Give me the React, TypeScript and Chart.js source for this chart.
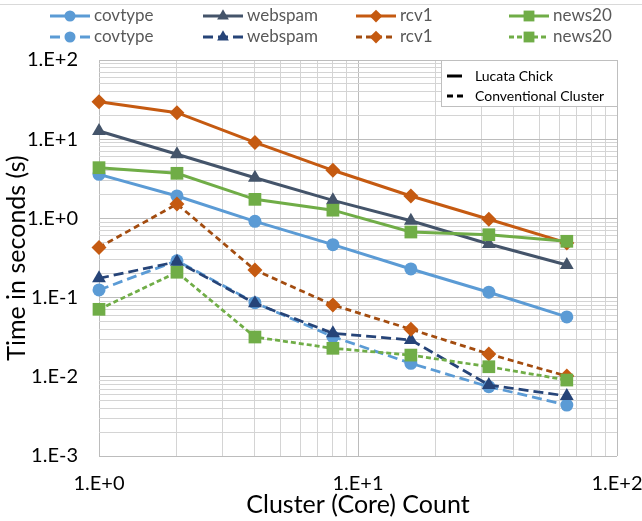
import React, { useEffect, useRef } from "react";
import { Chart, registerables } from "chart.js";

Chart.register(...registerables);

// Number of clusters (cores) on the x axis
const coreCounts = [1, 2, 4, 8, 16, 32, 64];

// Run times in seconds on the Lucata Chick
const covtypeChick = [3.6, 1.92, 0.918, 0.466, 0.23, 0.117, 0.057];
const webspamChick = [12.7, 6.45, 3.26, 1.69, 0.935, 0.475, 0.258];
const rcv1Chick = [29.7, 21.6, 9.1, 4.05, 1.92, 0.975, 0.49];
const news20Chick = [4.37, 3.71, 1.74, 1.27, 0.673, 0.622, 0.514];

// Run times in seconds on the conventional cluster
const covtypeCluster = [0.125, 0.292, 0.0863, 0.0321, 0.0148, 0.0075, 0.0044];
const webspamCluster = [0.175, 0.284, 0.0847, 0.0354, 0.0292, 0.00787, 0.00573];
const rcv1Cluster = [0.43, 1.52, 0.223, 0.0807, 0.0398, 0.0194, 0.0102];
const news20Cluster = [0.0711, 0.209, 0.0318, 0.0229, 0.0188, 0.0134, 0.0091];

// Labelled decades on each axis
const xMajorValues = [1, 10, 100];
const xMajorLabels = ["1.E+0", "1.E+1", "1.E+2"];
const yMajorValues = [0.001, 0.01, 0.1, 1, 10, 100];
const yMajorLabels = ["1.E-3", "1.E-2", "1.E-1", "1.E+0", "1.E+1", "1.E+2"];

const FONT = "Lato, 'Open Sans', 'DejaVu Sans', sans-serif";

type SeriesDef = {
  label: string;
  values: number[];
  line: string;
  marker: string;
  shape: "circle" | "triangle" | "rectRot" | "rect";
  radius: number;
  dash: number[];
};

const series: SeriesDef[] = [
  { label: "covtype", values: covtypeChick, line: "#5B9BD5", marker: "#5B9BD5", shape: "circle", radius: 6.5, dash: [] },
  { label: "webspam", values: webspamChick, line: "#44546A", marker: "#44546A", shape: "triangle", radius: 8, dash: [] },
  { label: "rcv1", values: rcv1Chick, line: "#C55A11", marker: "#C55A11", shape: "rectRot", radius: 7.5, dash: [] },
  { label: "news20", values: news20Chick, line: "#70AD47", marker: "#70AD47", shape: "rect", radius: 9, dash: [] },
  { label: "covtype", values: covtypeCluster, line: "#5B9BD5", marker: "#5B9BD5", shape: "circle", radius: 6.5, dash: [10, 5] },
  { label: "webspam", values: webspamCluster, line: "#264478", marker: "#264478", shape: "triangle", radius: 8, dash: [10, 5] },
  { label: "rcv1", values: rcv1Cluster, line: "#A34C0F", marker: "#C55A11", shape: "rectRot", radius: 7.5, dash: [6, 4] },
  { label: "news20", values: news20Cluster, line: "#70AD47", marker: "#70AD47", shape: "rect", radius: 9, dash: [5, 3] },
];

// Every 1..9 multiple within the decades spanned by the major values
function logGridValues(majors: number[]): number[] {
  const out: number[] = [];
  for (let i = 0; i < majors.length - 1; i++) {
    for (let k = 1; k <= 9; k++) {
      out.push(parseFloat((majors[i] * k).toPrecision(12)));
    }
  }
  out.push(majors[majors.length - 1]);
  return out;
}

function majorLabel(v: number, values: number[], labels: string[]): string {
  for (let i = 0; i < values.length; i++) {
    if (Math.abs(v - values[i]) / values[i] < 1e-6) return labels[i];
  }
  return "";
}

function isMajor(v: number, values: number[]): boolean {
  return values.some((m) => Math.abs(v - m) / m < 1e-6);
}

function drawMarker(ctx: CanvasRenderingContext2D, shape: string, x: number, y: number, r: number, color: string) {
  ctx.save();
  ctx.fillStyle = color;
  ctx.beginPath();
  if (shape === "circle") {
    ctx.arc(x, y, r, 0, Math.PI * 2);
  } else if (shape === "rect") {
    const s = r * Math.SQRT1_2;
    ctx.rect(x - s, y - s, 2 * s, 2 * s);
  } else if (shape === "rectRot") {
    ctx.moveTo(x - r, y);
    ctx.lineTo(x, y - r);
    ctx.lineTo(x + r, y);
    ctx.lineTo(x, y + r);
    ctx.closePath();
  } else if (shape === "triangle") {
    const a = -Math.PI / 2;
    for (let i = 0; i < 3; i++) {
      const ang = a + (i * 2 * Math.PI) / 3;
      const px = x + Math.cos(ang) * r;
      const py = y + Math.sin(ang) * r;
      if (i === 0) ctx.moveTo(px, py);
      else ctx.lineTo(px, py);
    }
    ctx.closePath();
  }
  ctx.fill();
  ctx.restore();
}

const overlayPlugin = {
  id: "overlay",
  afterDraw(chart: any) {
    const ctx: CanvasRenderingContext2D = chart.ctx;
    const area = chart.chartArea;
    ctx.save();

    // outer frame line along the top
    ctx.strokeStyle = "#d9d9d9";
    ctx.lineWidth = 1;
    ctx.beginPath();
    ctx.moveTo(0, 4.5);
    ctx.lineTo(chart.width, 4.5);
    ctx.stroke();

    // series legend, two rows of four
    ctx.font = `17px ${FONT}`;
    ctx.textBaseline = "middle";
    ctx.textAlign = "left";
    series.forEach((s, i) => {
      const col = i % 4;
      const row = Math.floor(i / 4);
      const x0 = 50 + col * 153;
      const y = row === 0 ? 16 : 37;
      ctx.save();
      ctx.strokeStyle = s.line;
      ctx.lineWidth = 3;
      ctx.setLineDash(s.dash);
      ctx.beginPath();
      ctx.moveTo(x0, y);
      ctx.lineTo(x0 + 40, y);
      ctx.stroke();
      ctx.restore();
      drawMarker(ctx, s.shape, x0 + 20, y, s.radius * 0.85, s.marker);
      ctx.fillStyle = "#595959";
      ctx.fillText(s.label, x0 + 44, y);
    });

    // line style key in the top-right corner of the plot
    const bx = 441, by = area.top, bw = 177, bh = 47;
    ctx.fillStyle = "#ffffff";
    ctx.fillRect(bx, by, bw, bh);
    ctx.strokeStyle = "#bfbfbf";
    ctx.lineWidth = 1;
    ctx.strokeRect(bx + 0.5, by + 0.5, bw - 1, bh - 1);
    ctx.strokeStyle = "#000000";
    ctx.lineWidth = 3;
    ctx.beginPath();
    ctx.moveTo(447, by + 16);
    ctx.lineTo(462, by + 16);
    ctx.stroke();
    ctx.setLineDash([6, 4]);
    ctx.beginPath();
    ctx.moveTo(447, by + 36);
    ctx.lineTo(463, by + 36);
    ctx.stroke();
    ctx.setLineDash([]);
    ctx.fillStyle = "#000000";
    ctx.font = `14px ${FONT}`;
    ctx.fillText("Lucata Chick", 475, by + 16);
    ctx.fillText("Conventional Cluster", 475, by + 36);

    // axis titles
    ctx.fillStyle = "#000000";
    ctx.font = `25px ${FONT}`;
    ctx.textAlign = "center";
    ctx.fillText("Cluster (Core) Count", 358, 505);
    ctx.save();
    ctx.translate(17, (area.top + area.bottom) / 2);
    ctx.rotate(-Math.PI / 2);
    ctx.fillText("Time in seconds (s)", 0, 0);
    ctx.restore();

    ctx.restore();
  },
};

export default function App() {
  const canvasRef = useRef<HTMLCanvasElement | null>(null);

  useEffect(() => {
    if (!canvasRef.current) return;
    const n = series.length;
    const chart = new Chart(canvasRef.current, {
      type: "line",
      data: {
        datasets: series.map((s, i) => ({
          label: s.label,
          data: coreCounts.map((c, j) => ({ x: c, y: s.values[j] })),
          borderColor: s.line,
          backgroundColor: s.marker,
          pointBackgroundColor: s.marker,
          pointBorderColor: s.marker,
          pointBorderWidth: 0,
          pointStyle: s.shape,
          pointRadius: s.radius,
          borderWidth: s.dash.length ? 2.75 : 3,
          borderDash: s.dash,
          tension: 0,
          fill: false,
          clip: false as any,
          order: n - i,
        })),
      },
      options: {
        responsive: false,
        animation: false,
        layout: { padding: { left: 0, right: 25, top: 60, bottom: 0 } },
        plugins: {
          legend: { display: false },
          tooltip: { enabled: false },
          title: { display: false },
        },
        scales: {
          x: {
            type: "logarithmic",
            min: 1,
            max: 100,
            afterBuildTicks: (scale: any) => {
              scale.ticks = logGridValues(xMajorValues).map((v) => ({ value: v }));
            },
            afterFit: (scale: any) => {
              scale.height = 65;
              scale.paddingLeft = 0;
              scale.paddingRight = 0;
            },
            grid: {
              drawTicks: false,
              color: (c: any) => (isMajor(c.tick?.value, xMajorValues) ? "#bcbcbc" : "#d4d4d4"),
              lineWidth: 1,
            },
            border: { display: false },
            ticks: {
              autoSkip: false,
              maxRotation: 0,
              padding: 16,
              color: "#000000",
              font: { family: FONT, size: 20 },
              callback: (v: any) => majorLabel(Number(v), xMajorValues, xMajorLabels),
            },
          },
          y: {
            type: "logarithmic",
            min: 0.001,
            max: 100,
            afterBuildTicks: (scale: any) => {
              scale.ticks = logGridValues(yMajorValues).map((v) => ({ value: v }));
            },
            afterFit: (scale: any) => {
              scale.width = 99;
              scale.paddingTop = 0;
              scale.paddingBottom = 0;
            },
            grid: {
              drawTicks: false,
              color: (c: any) => (isMajor(c.tick?.value, yMajorValues) ? "#bcbcbc" : "#d4d4d4"),
              lineWidth: 1,
            },
            border: { display: false },
            ticks: {
              autoSkip: false,
              padding: 21,
              color: "#000000",
              font: { family: FONT, size: 20 },
              callback: (v: any) => majorLabel(Number(v), yMajorValues, yMajorLabels),
            },
          },
        },
      },
      plugins: [overlayPlugin],
    });
    return () => chart.destroy();
  }, []);

  return (
    <div style={{ position: "fixed", left: 0, top: 0, width: 642, height: 521, background: "#ffffff" }}>
      <canvas ref={canvasRef} width={642} height={521} />
    </div>
  );
}
